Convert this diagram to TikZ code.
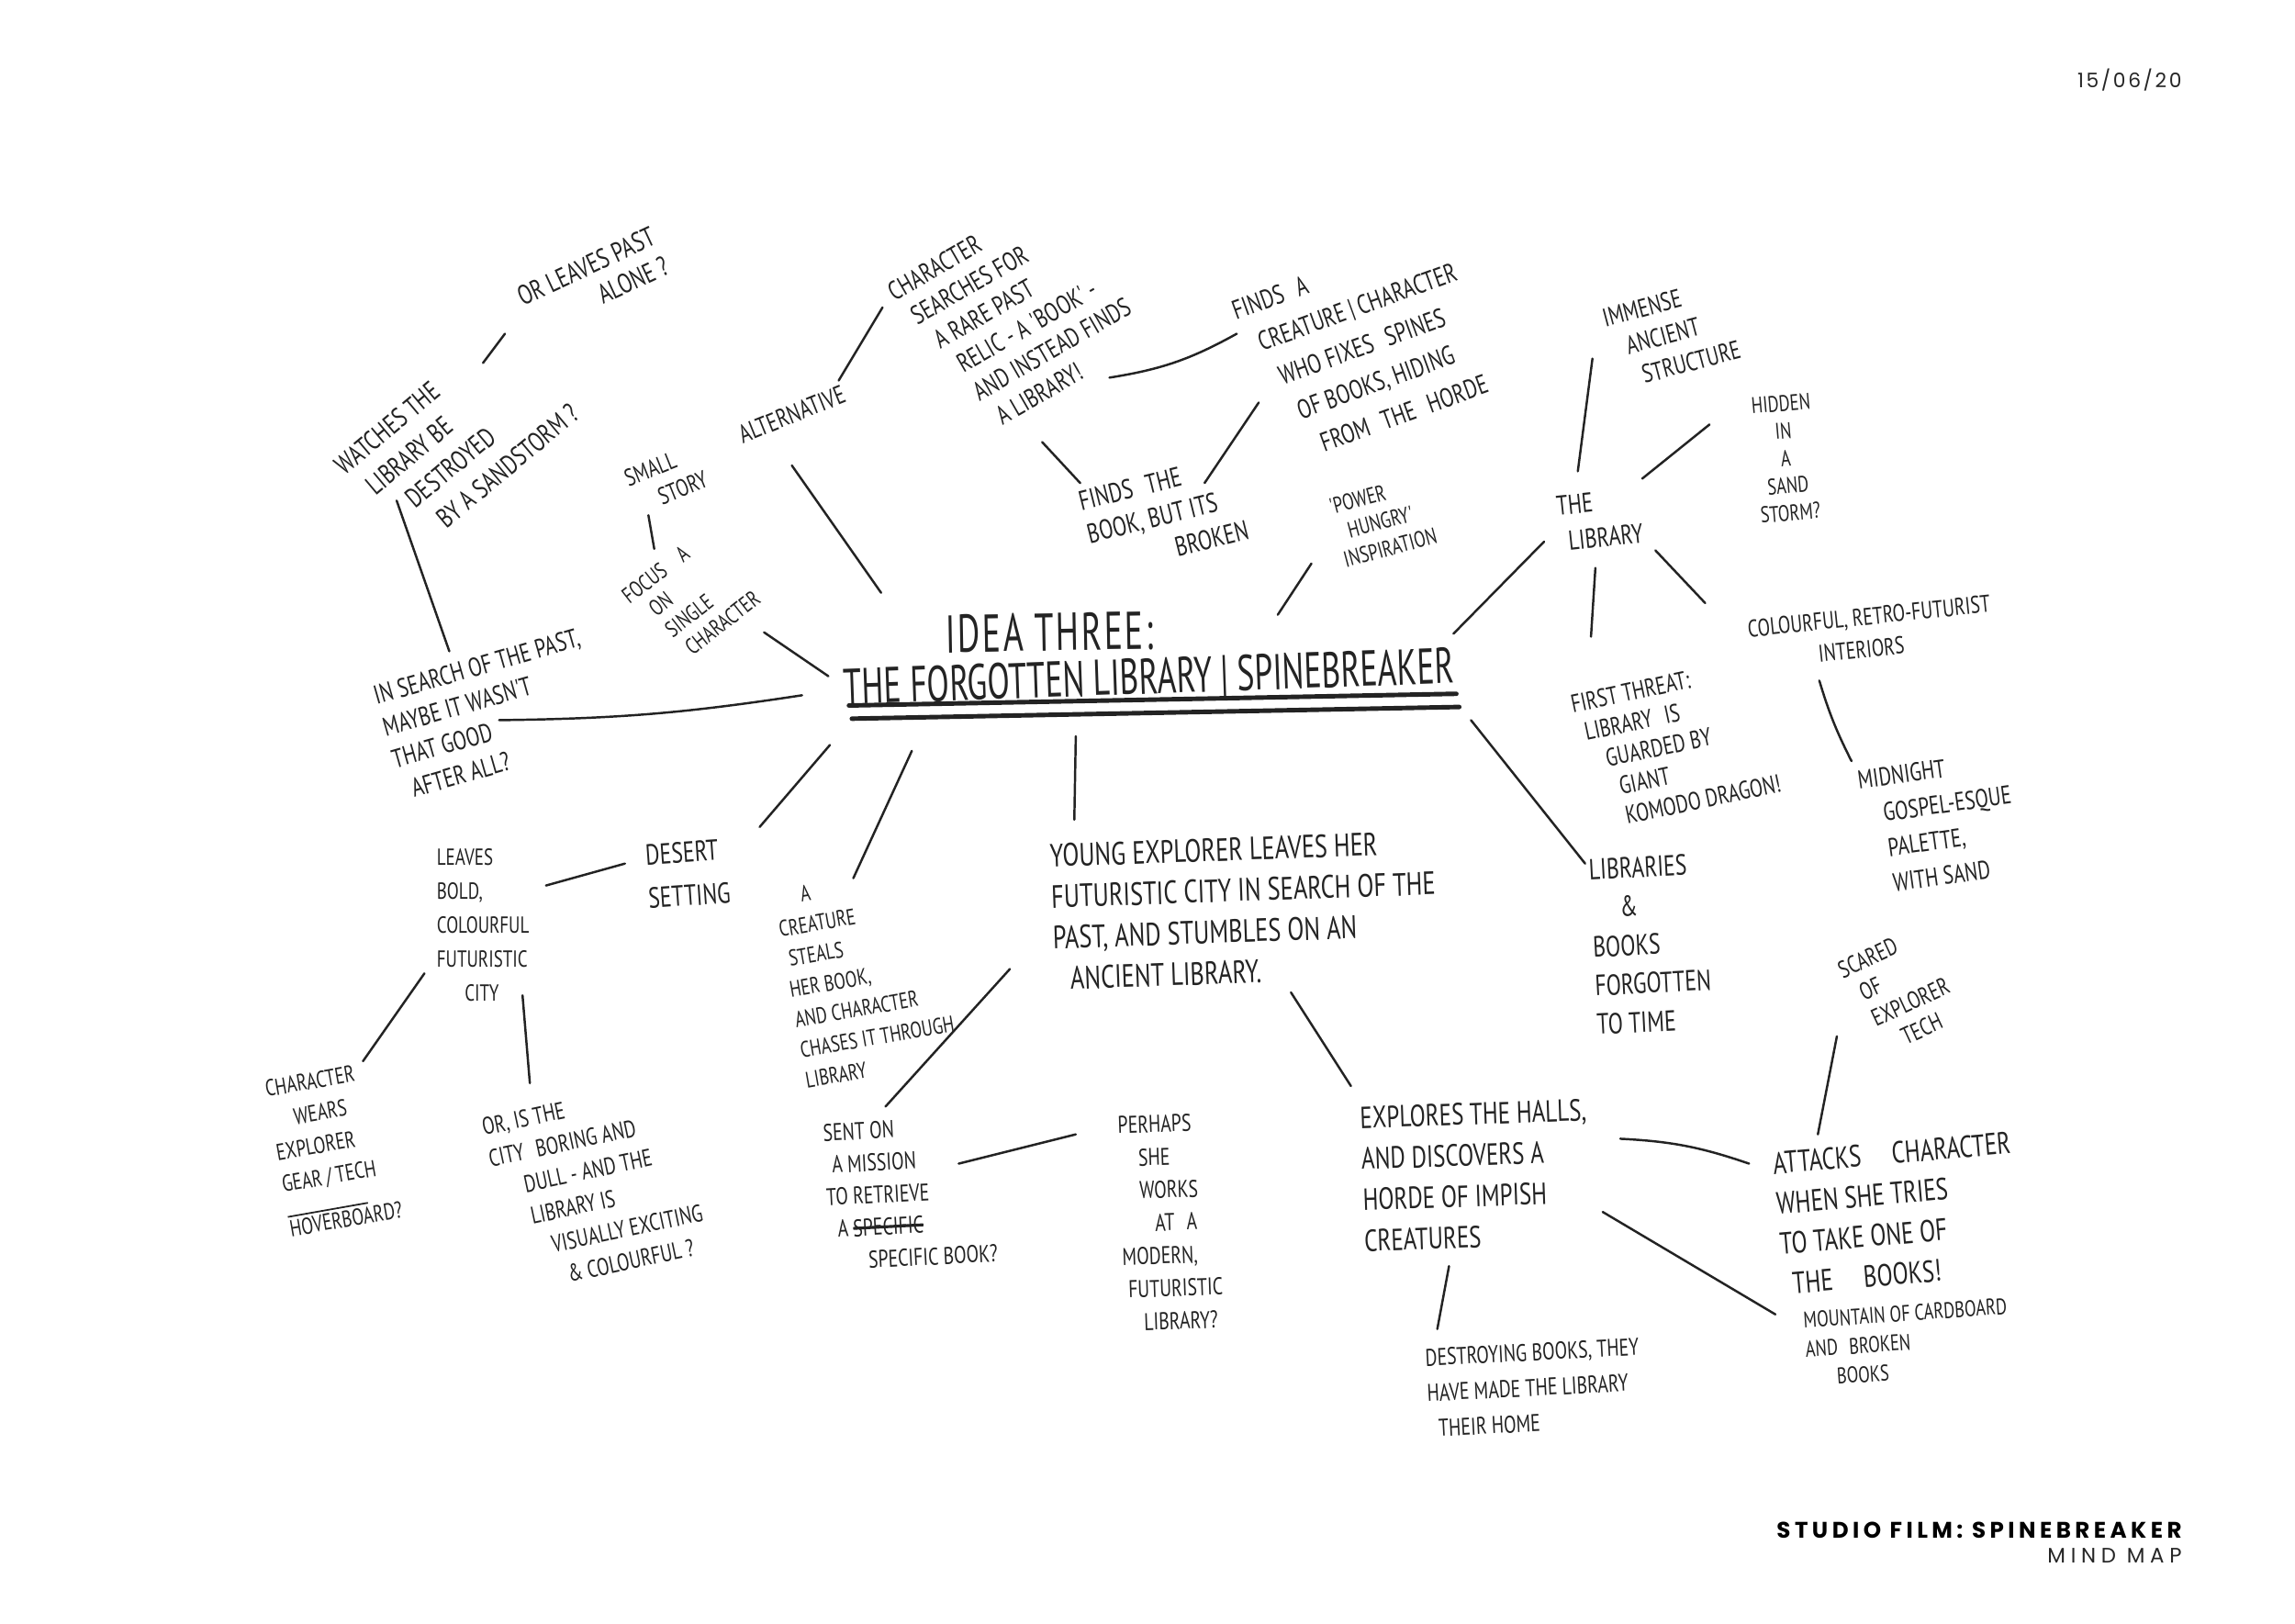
\documentclass[tikz,border=0pt]{standalone}
\usepackage{fontspec}
\setmainfont{PT Sans}
\newfontfamily\handfont[FakeStretch=0.75]{PT Sans}
\newfontfamily\titlefont[FakeStretch=0.65]{PT Sans}
\newfontfamily\footfont{Poppins}
\usetikzlibrary{calc}
\definecolor{ink}{HTML}{232323}
\newcommand{\fs}[2]{\fontsize{#1}{#2}\selectfont}
\newsavebox\strkbox
\newcommand{\strk}[1]{\sbox\strkbox{#1}\usebox\strkbox\llap{\rule[0.28em]{\wd\strkbox}{0.9pt}}}
\tikzset{
  x=0.015944cm, y=-0.015944cm,
  hand/.style={text=ink, inner sep=1pt, align=left},
  sz/.style 2 args={font=\handfont\fs{#1}{#2}},
  conn/.style={draw=ink, line width=0.7pt, line cap=round},
  uline/.style={draw=ink, line width=1.4pt, line cap=round},
}
\begin{document}
\begin{tikzpicture}
\fill[white] (0,0) rectangle (1568,1109);
\useasboundingbox (0,0) rectangle (1568,1109);

% title
\node[hand, font=\titlefont\fs{16.5}{18}\addfontfeature{LetterSpace=4}, rotate=1] (idea) at (717,432) {IDEA THREE:};
\node[hand, font=\titlefont\fs{15.6}{17}, rotate=2] (ttl) at (785,464) {THE FORGOTTEN LIBRARY\,|\,SPINEBREAKER};
\draw[uline] ([shift={(-205,18)}]ttl.center) -- ([shift={(210,10)}]ttl.center);
\draw[uline] ([shift={(-203,27)}]ttl.center) -- ([shift={(212,19)}]ttl.center);

% top left
\node[hand, sz={8.5}{10}, rotate=25, align=right] (orleaves) at (405,192) {OR LEAVES PAST\\ALONE ?};
\node[hand, sz={8.5}{11}, rotate=40] (watches) at (312,300) {WATCHES THE\\\hspace{0.4em}LIBRARY BE\\\hspace{1.2em}DESTROYED\\\hspace{1.6em}BY A SANDSTORM ?};
\node[hand, sz={7.5}{9}, rotate=22] (smallstory) at (455,327) {SMALL\\\hspace{1em}STORY};
\node[hand, sz={7}{8.2}, rotate=38] (focus) at (472,408) {FOCUS\hspace{0.8em}A\\\hspace{0.6em}ON\\\hspace{0.6em}SINGLE\\\hspace{0.8em}CHARACTER};
\node[hand, sz={8.2}{10.3}, rotate=16] (insearch) at (335,488) {IN SEARCH OF THE PAST,\\MAYBE IT WASN'T\\THAT GOOD\\\hspace{0.4em}AFTER ALL?};
\node[hand, sz={8}{10}, rotate=22] (alternative) at (541,283) {ALTERNATIVE};

% top middle
\node[hand, sz={8.2}{10}, rotate=30] (charsearch) at (695,214) {CHARACTER\\\hspace{0.3em}SEARCHES FOR\\\hspace{0.6em}A RARE PAST\\\hspace{0.9em}RELIC - A 'BOOK' -\\\hspace{0.9em}AND INSTEAD FINDS\\\hspace{1.2em}A LIBRARY!};
\node[hand, sz={8.5}{10.5}, rotate=14] (findsbook) at (795,352) {FINDS\enspace THE\\BOOK, BUT ITS\\\hspace{3em}BROKEN};
\node[hand, sz={8.3}{12}, rotate=20] (findscreature) at (932,236) {FINDS\enspace A\\\hspace{0.5em}CREATURE\,|\,CHARACTER\\\hspace{0.8em}WHO FIXES\enspace SPINES\\\hspace{1em}OF BOOKS, HIDING\\\hspace{1.4em}FROM\enspace THE\enspace HORDE};
\node[hand, sz={7}{8.5}, rotate=15] (powerhungry) at (945,356) {'POWER\\\hspace{0.5em}HUNGRY'\\INSPIRATION};

% top right
\node[hand, sz={8}{10}, rotate=15] (immense) at (1142,228) {IMMENSE\\\hspace{0.6em}ANCIENT\\\hspace{0.9em}STRUCTURE};
\node[hand, sz={7}{8.5}, rotate=5, align=center] (hidden) at (1220,313) {HIDDEN\\IN\\A\\SAND\\STORM?};
\node[hand, sz={8.5}{11}, rotate=6] (library) at (1093,355) {THE\\\hspace{0.3em}LIBRARY};
\node[hand, sz={7.5}{10}, rotate=6] (colourful) at (1278,432) {COLOURFUL, RETRO-FUTURIST\\\hspace{2.8em}INTERIORS};
\node[hand, sz={8}{11}, rotate=8] (midnight) at (1325,562) {MIDNIGHT\\\hspace{0.8em}GOSPEL-ESQUE\\\hspace{0.8em}PALETTE,\\\hspace{0.8em}WITH SAND};
\node[hand, sz={7.8}{9.3}, rotate=12] (threat) at (1145,508) {FIRST THREAT:\\\hspace{0.3em}LIBRARY\enspace IS\\\hspace{0.9em}GUARDED BY\\\hspace{1.2em}GIANT\\\hspace{1.2em}KOMODO DRAGON!};
\node[hand, sz={9}{12}, rotate=3] (libraries) at (1128,645) {LIBRARIES\\\hspace{1em}\&\\BOOKS\\FORGOTTEN\\TO TIME};

% bottom right
\node[hand, sz={7.5}{9}, rotate=25] (scared) at (1298,677) {SCARED\\\hspace{0.4em}OF\\\hspace{0.4em}EXPLORER\\\hspace{1.2em}TECH};
\node[hand, sz={9.5}{12.5}, rotate=5] (attacks) at (1296,829) {ATTACKS\quad CHARACTER\\WHEN SHE TRIES\\TO TAKE ONE OF\\\hspace{0.3em}THE\quad BOOKS!};
\node[hand, sz={7}{9}, rotate=4] (mountain) at (1303,917) {MOUNTAIN OF CARDBOARD\\AND\enspace BROKEN\\\hspace{1.3em}BOOKS};
\node[hand, sz={9.5}{12.7}, rotate=2] (explores) at (1008,803) {EXPLORES THE HALLS,\\AND DISCOVERS A\\HORDE OF IMPISH\\CREATURES};
\node[hand, sz={7.5}{11}, rotate=3] (destroying) at (1048,948) {DESTROYING BOOKS, THEY\\HAVE MADE THE LIBRARY\\\hspace{0.4em}THEIR HOME};

% bottom middle
\node[hand, sz={10}{12.7}, rotate=2] (young) at (850,622) {YOUNG EXPLORER LEAVES HER\\FUTURISTIC CITY IN SEARCH OF THE\\PAST, AND STUMBLES ON AN\\\hspace{0.5em}ANCIENT LIBRARY.};
\node[hand, sz={7}{9.5}, rotate=10] (creature) at (592,667) {\hspace{1.2em}A\\CREATURE\\\hspace{0.2em}STEALS\\HER BOOK,\\AND CHARACTER\\CHASES IT THROUGH\\LIBRARY};
\node[hand, sz={7.5}{10}, rotate=3] (sent) at (622,815) {SENT ON\\\hspace{0.3em}A MISSION\\TO RETRIEVE\\\hspace{0.4em}A \strk{SPECIFIC}\\\hspace{1.6em}SPECIFIC BOOK?};
\node[hand, sz={7.5}{10.2}, rotate=2] (perhaps) at (800,835) {PERHAPS\\\hspace{0.8em}SHE\\\hspace{0.8em}WORKS\\\hspace{1.4em}AT\enspace A\\MODERN,\\\hspace{0.2em}FUTURISTIC\\\hspace{0.8em}LIBRARY?};

% bottom left
\node[hand, sz={9}{13.5}, rotate=4] (desert) at (470,597) {DESERT\\SETTING};
\node[hand, sz={7.2}{10.5}] (leaves) at (330,632) {LEAVES\\BOLD,\\COLOURFUL\\FUTURISTIC\\\hspace{1.2em}CITY};
\node[hand, sz={7.2}{10}, rotate=10] (wears) at (228,785) {CHARACTER\\\hspace{1em}WEARS\\EXPLORER\\GEAR\,/\,TECH\\[-2pt]\rule{3.5em}{0.5pt}\\[-4pt]HOVERBOARD?};
\node[hand, sz={7.5}{10}, rotate=12] (oristhe) at (407,810) {OR, IS THE\\CITY\enspace BORING AND\\\hspace{1.2em}DULL - AND THE\\\hspace{1.2em}LIBRARY IS\\\hspace{1.8em}VISUALLY EXCITING\\\hspace{2.2em}\& COLOURFUL ?};

% date and footer
\node[anchor=base east, inner sep=0pt, text=black!85, font=\footfont\fs{6.2}{7}\addfontfeature{LetterSpace=12}] (date) at (1491,60) {15/06/20};
\node[anchor=base east, inner sep=0pt, text=black, font=\footfont\bfseries\fs{7}{8}\addfontfeature{LetterSpace=18}] (foot1) at (1491,1051) {STUDIO FILM: SPINEBREAKER};
\node[anchor=base east, inner sep=0pt, text=black!85, font=\footfont\fs{6.5}{7}\addfontfeature{LetterSpace=25}] (foot2) at (1491,1068) {MIND MAP};

% connectors
\draw[conn] ([shift={(-60,36)}]orleaves.center) -- ([shift={(18,-52)}]watches.center);
\draw[conn] ([shift={(-41,42)}]watches.center) -- ([shift={(-28,-43)}]insearch.center);
\draw[conn] ([shift={(6,4)}]insearch.center) to[bend right=4] ([shift={(-237,11)}]ttl.center);
\draw[conn] ([shift={(-12,25)}]smallstory.center) -- ([shift={(-25,-33)}]focus.center);
\draw[conn] ([shift={(50,24)}]focus.center) -- ([shift={(-219,-2)}]ttl.center);
\draw[conn] ([shift={(0,35)}]alternative.center) -- ([shift={(-115,-27)}]idea.center);
\draw[conn] ([shift={(32,-23)}]alternative.center) -- ([shift={(-92,-4)}]charsearch.center);
\draw[conn] ([shift={(63,44)}]charsearch.center) to[bend right=10] ([shift={(-87,-8)}]findscreature.center);
\draw[conn] ([shift={(17,88)}]charsearch.center) -- ([shift={(-57,-22)}]findsbook.center);
\draw[conn] ([shift={(28,-22)}]findsbook.center) -- ([shift={(-72,39)}]findscreature.center);
\draw[conn] ([shift={(-49,29)}]powerhungry.center) -- ([shift={(156,-12)}]idea.center);
\draw[conn] ([shift={(208,-31)}]ttl.center) -- ([shift={(-38,15)}]library.center);
\draw[conn] ([shift={(-15,-33)}]library.center) -- ([shift={(-54,17)}]immense.center);
\draw[conn] ([shift={(29,-28)}]library.center) -- ([shift={(-52,-23)}]hidden.center);
\draw[conn] ([shift={(-3,33)}]library.center) -- ([shift={(-58,-73)}]threat.center);
\draw[conn] ([shift={(38,21)}]library.center) -- ([shift={(-113,-20)}]colourful.center);
\draw[conn] ([shift={(-35,33)}]colourful.center) to[bend right=5] ([shift={(-60,-42)}]midnight.center);
\draw[conn] ([shift={(220,28)}]ttl.center) -- ([shift={(-45,-55)}]libraries.center);
\draw[conn] ([shift={(-50,39)}]ttl.center) -- ([shift={(-116,-62)}]young.center);
\draw[conn] ([shift={(-218,45)}]ttl.center) -- ([shift={(49,-32)}]desert.center);
\draw[conn] ([shift={(-162,49)}]ttl.center) -- ([shift={(-9,-67)}]creature.center);
\draw[conn] ([shift={(-43,-7)}]desert.center) -- ([shift={(43,-27)}]leaves.center);
\draw[conn] ([shift={(-40,33)}]leaves.center) -- ([shift={(20,-60)}]wears.center);
\draw[conn] ([shift={(27,48)}]leaves.center) -- ([shift={(-45,-70)}]oristhe.center);
\draw[conn] ([shift={(-160,40)}]young.center) -- ([shift={(-17,-59)}]sent.center);
\draw[conn] ([shift={(33,-20)}]sent.center) -- ([shift={(-65,-60)}]perhaps.center);
\draw[conn] ([shift={(32,56)}]young.center) -- ([shift={(-85,-61)}]explores.center);
\draw[conn] ([shift={(-18,62)}]explores.center) -- ([shift={(-66,-40)}]destroying.center);
\draw[conn] ([shift={(99,-25)}]explores.center) to[bend left=8] ([shift={(-101,-34)}]attacks.center);
\draw[conn] ([shift={(87,25)}]explores.center) -- ([shift={(-90,-19)}]mountain.center);
\draw[conn] ([shift={(-43,31)}]scared.center) -- ([shift={(-54,-54)}]attacks.center);
\end{tikzpicture}
\end{document}
